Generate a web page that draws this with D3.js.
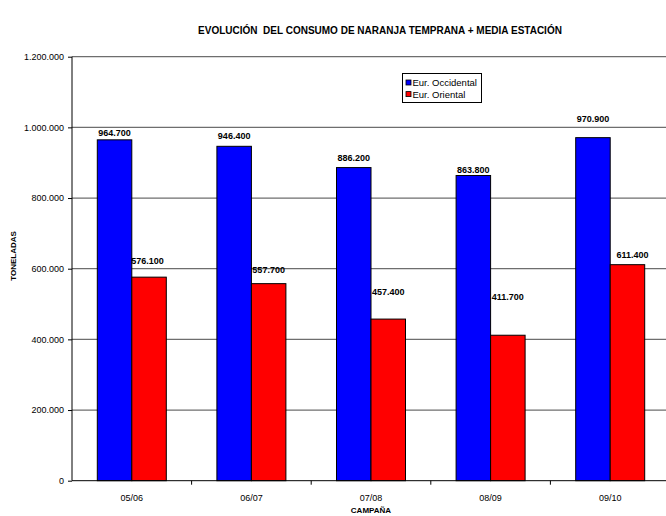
<!DOCTYPE html>
<html>
<head>
<meta charset="utf-8">
<script src="https://cdn.jsdelivr.net/npm/d3@7"></script>
<style>
  html, body { margin: 0; padding: 0; background: #fff; }
  svg { display: block; font-family: "Liberation Sans", Arial, sans-serif; }
</style>
</head>
<body>
<svg id="chart" width="666" height="516"></svg>
<script>
// Campaign seasons on the x axis
const campaigns = ["05/06", "06/07", "07/08", "08/09", "09/10"];
// Consumption in tonnes per region
const seriesNames = ["Eur. Occidental", "Eur. Oriental"];
const occidental = [964700, 946400, 886200, 863800, 970900];
const oriental = [576100, 557700, 457400, 411700, 611400];
const seriesColors = ["#0000ff", "#ff0000"];
const yTicks = [0, 200000, 400000, 600000, 800000, 1000000, 1200000];

const title = "EVOLUCIÓN\u00a0 DEL CONSUMO DE NARANJA TEMPRANA + MEDIA ESTACIÓN";
const yTitle = "TONELADAS";
const xTitle = "CAMPAÑA";

// Hand-placed value labels: lift above the bar top and sideways shift, per series
const labelLift = [[3.5, 7, 6.6, 2.5, 15.7], [13.6, 11, 24, 35, 7]];
const labelShift = [[0, 0, 0, 0, 0], [-1.5, 0, 0, 0, 5]];

const es = d3.formatLocale({ decimal: ",", thousands: ".", grouping: [3], currency: ["", " €"] });
const fmt = es.format(",d");

const svg = d3.select("#chart");
const margin = { left: 72, right: -4, top: 56.7, bottom: 35.3 };
const W = 666, H = 516;

const x = d3.scaleBand().domain(campaigns)
  .range([margin.left, W - margin.right]).paddingInner(0).paddingOuter(0);
const inner = d3.scaleBand().domain(seriesNames)
  .range([25.3, x.bandwidth() - 25.3]);
const y = d3.scaleLinear().domain([0, 1200000]).range([H - margin.bottom, margin.top]);

const rows = campaigns.map((c, i) => ({ c, i, vals: [occidental[i], oriental[i]] }));

// Horizontal gridlines
svg.append("g").selectAll("line").data(yTicks.filter(d => d > 0)).join("line")
  .attr("x1", margin.left).attr("x2", W - margin.right)
  .attr("y1", d => y(d)).attr("y2", d => y(d))
  .attr("stroke", "#6e6e6e").attr("stroke-width", 1.3);

// Bars
const groups = svg.append("g").selectAll("g").data(rows).join("g")
  .attr("transform", d => `translate(${x(d.c)},0)`);
groups.selectAll("rect").data(d => d.vals.map((v, k) => ({ v, k, i: d.i }))).join("rect")
  .attr("x", d => inner(seriesNames[d.k]))
  .attr("width", inner.bandwidth())
  .attr("y", d => y(d.v))
  .attr("height", d => y(0) - y(d.v))
  .attr("fill", d => seriesColors[d.k])
  .attr("stroke", "#000").attr("stroke-width", 1);

// Value labels
groups.selectAll("text").data(d => d.vals.map((v, k) => ({ v, k, i: d.i }))).join("text")
  .attr("x", d => inner(seriesNames[d.k]) + inner.bandwidth() / 2 + labelShift[d.k][d.i])
  .attr("y", d => y(d.v) - labelLift[d.k][d.i])
  .attr("text-anchor", "middle")
  .attr("font-size", 9).attr("font-weight", "bold").attr("fill", "#000")
  .text(d => fmt(d.v));

// Y axis
const yAxis = svg.append("g").attr("transform", `translate(${margin.left},0)`)
  .call(d3.axisLeft(y).tickValues(yTicks).tickFormat(fmt).tickSize(4).tickPadding(4));
yAxis.select(".domain").attr("stroke", "#000").attr("d", `M0,${y(1200000)}V${y(0)}`);
yAxis.selectAll("text").attr("font-size", 9).attr("font-family", "Liberation Sans, Arial, sans-serif").attr("fill", "#000");

// X axis
const xAxis = svg.append("g").attr("transform", `translate(0,${y(0)})`)
  .call(d3.axisBottom(x).tickSize(0).tickPadding(14));
xAxis.select(".domain").attr("stroke", "#000").attr("d", `M${margin.left},0H${W}`);
xAxis.selectAll("text").attr("font-size", 9).attr("font-family", "Liberation Sans, Arial, sans-serif").attr("fill", "#000");
xAxis.append("g").selectAll("line").data(campaigns.slice(1)).join("line")
  .attr("x1", d => x(d)).attr("x2", d => x(d)).attr("y1", 0).attr("y2", 4)
  .attr("stroke", "#000");

// Titles
svg.append("text").attr("x", 380).attr("y", 34).attr("text-anchor", "middle")
  .attr("font-size", 10).attr("font-weight", "bold").text(title);
svg.append("text").attr("transform", `translate(16,256) rotate(-90)`)
  .attr("text-anchor", "middle").attr("font-size", 8).attr("font-weight", "bold").text(yTitle);
svg.append("text").attr("x", x("07/08") + x.bandwidth() / 2).attr("y", 513).attr("text-anchor", "middle")
  .attr("font-size", 8).attr("font-weight", "bold").text(xTitle);

// Legend
const lg = svg.append("g").attr("transform", "translate(402.5,73.5)");
lg.append("rect").attr("width", 79).attr("height", 29).attr("fill", "#fff").attr("stroke", "#000");
const items = lg.selectAll("g.item").data(seriesNames).join("g").attr("class", "item")
  .attr("transform", (d, i) => `translate(3.5,${6.5 + i * 11.6})`);
items.append("rect").attr("width", 5).attr("height", 5)
  .attr("fill", (d, i) => seriesColors[i]).attr("stroke", "#000").attr("stroke-width", 0.8);
items.append("text").attr("x", 6.5).attr("y", 6).attr("font-size", 9.5).text(d => d);
</script>
</body>
</html>
